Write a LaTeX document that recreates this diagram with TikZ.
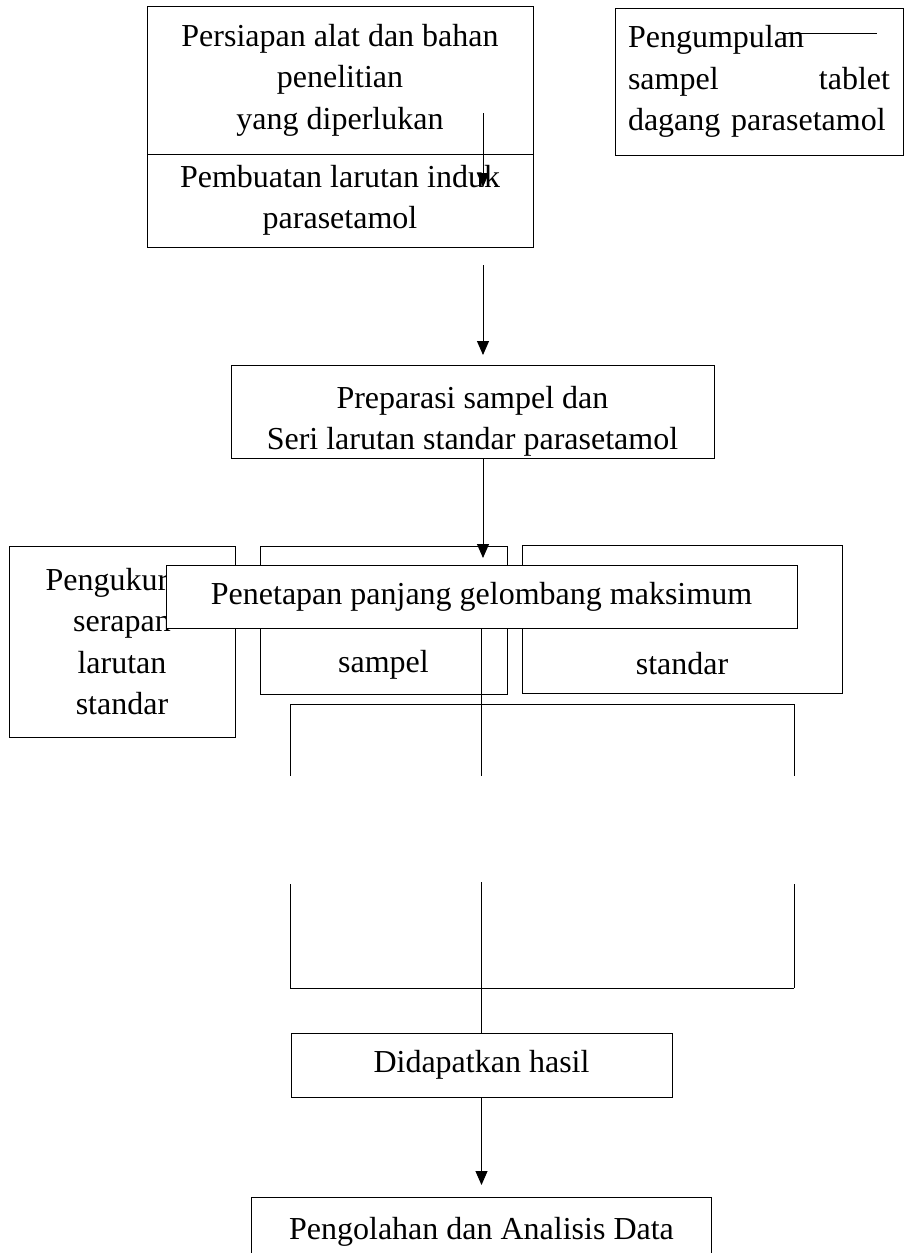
\documentclass[tikz,border=0pt]{standalone}
\usepackage{fontspec}
\setmainfont{Liberation Serif}
\usepackage{tikz}
\usetikzlibrary{arrows.meta,positioning}

\begin{document}
\begin{tikzpicture}[x=1pt,y=-1pt,line width=1pt,
  font=\fontsize{32}{41.5}\selectfont,
  box/.style={draw,align=center,inner sep=0pt,outer sep=0pt},
  arr/.style={-{Triangle[width=12pt,length=14pt]}}]
  \useasboundingbox (0,0) rectangle (904,1253);

  \node[box,minimum width=386,minimum height=148] (persiapan) at (340,80) {Persiapan alat dan bahan\\penelitian\\yang diperlukan};
  \node[box,minimum width=386,minimum height=93] (induk) at (340,200.5) {Pembuatan larutan induk\\parasetamol};
  \node[box,align=left,text width=262,minimum width=288,minimum height=147] (sampel) at (759,81.5) {Pengumpulan\\sampel\hfill tablet\\\mbox{dagang parasetamol}};
  \node[box,minimum width=483,minimum height=93] (preparasi) at (472.5,411.5) {\rule{0pt}{42pt}Preparasi sampel dan\\Seri larutan standar parasetamol};

  \node[box,minimum width=226,minimum height=191] (ukurstd) at (122,641.5) {Pengukuran\\serapan\\larutan\\standar};
  \node[box,minimum width=247,minimum height=148] (ukursmp) at (383.5,620) {\strut\\\strut\\sampel};
  \node[box,minimum width=320,minimum height=148] (kurva) at (682,619) {\strut\\\strut\\standar};
  \node[box,fill=white,minimum width=631,minimum height=63] (lamda) at (481.5,596.5) {Penetapan panjang gelombang maksimum};

  \node[box,minimum width=381,minimum height=64] (hasil) at (481.5,1065) {Didapatkan hasil};
  \node[box,minimum width=460,minimum height=70] (analisis) at (481.5,1232) {Pengolahan dan Analisis Data};

  \coordinate (a1) at (483,113);
  \coordinate (a2) at (483,187);
  \coordinate (b1) at (483,265);
  \coordinate (b2) at (483,355);
  \coordinate (g1) at (782,33);
  \coordinate (g2) at (877,33);
  \coordinate (tl) at (290,704);
  \coordinate (tr) at (794,704);
  \coordinate (bl) at (290,988);
  \coordinate (br) at (794,988);
  \coordinate (bm) at (481.5,988);

  \draw[arr] (a1) -- (a2);
  \draw (g1) -- (g2);
  \draw[arr] (b1) -- (b2);
  \draw[arr] (preparasi.south -| a1) -- ([yshift=7pt]lamda.north -| a1);

  \draw (lamda.south) -- ++(0,148);
  \draw (tl) -- (tr);
  \draw (tl) -- ++(0,72);
  \draw (tr) -- ++(0,72);
  \draw (bl) -- ++(0,-104);
  \draw (br) -- ++(0,-104);
  \draw (bm) -- ++(0,-106);
  \draw (bl) -- (br);
  \draw (bm) -- (hasil.north);
  \draw[arr] (hasil.south) -- ([yshift=12pt]analisis.north);
\end{tikzpicture}
\end{document}
